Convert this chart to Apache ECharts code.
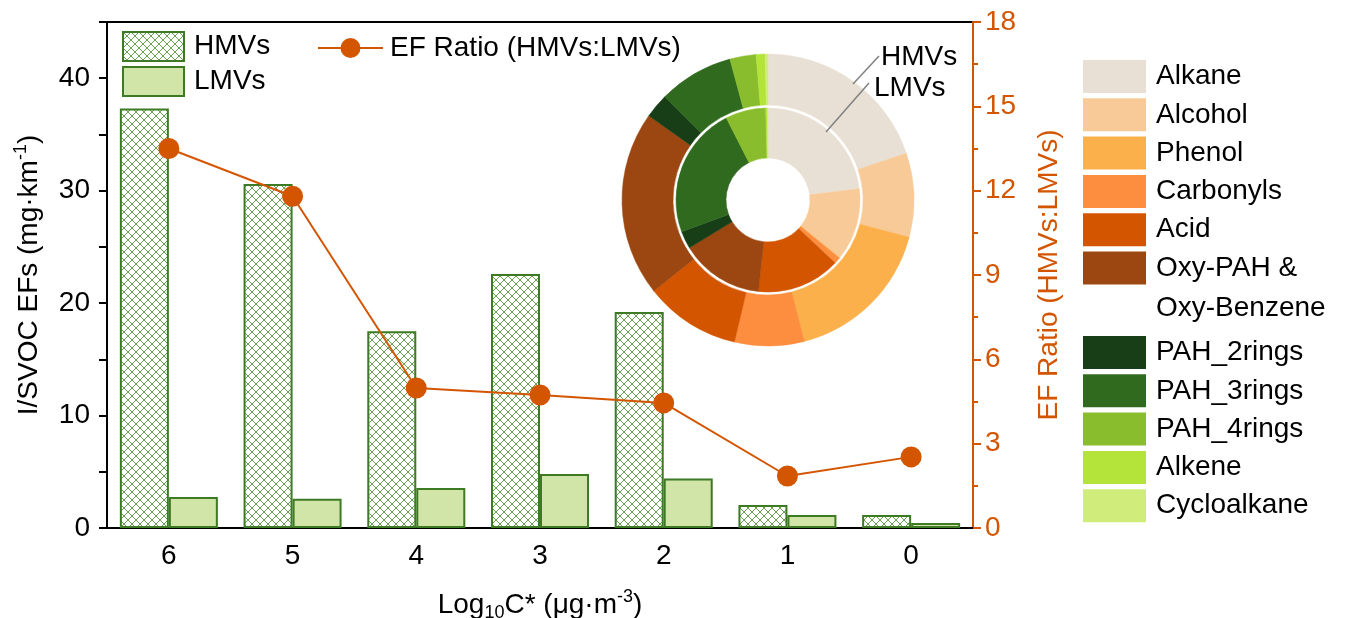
<!DOCTYPE html>
<html>
<head>
<meta charset="utf-8">
<title>I/SVOC EFs of HMVs and LMVs</title>
<script src="https://cdn.jsdelivr.net/npm/echarts@6/dist/echarts.min.js"></script>
<style>
html, body { margin: 0; padding: 0; background: #fff; }
#chart { width: 1346px; height: 618px; }
</style>
</head>
<body>
<div id="chart"></div>
<script>
// volatility bins, log10 C*
const bins = ["6", "5", "4", "3", "2", "1", "0"];
const hmvEF = [37.3, 30.6, 17.5, 22.6, 19.2, 2.05, 1.15];
const lmvEF = [2.75, 2.6, 3.55, 4.8, 4.4, 1.15, 0.45];
const efRatio = [13.5, 11.8, 4.98, 4.73, 4.45, 1.85, 2.53];
const leftTickLabels = [0, 10, 20, 30, 40];

// compound class shares (%), inner ring = LMVs, outer ring = HMVs
const classes = ["Alkane", "Alcohol", "Phenol", "Carbonyls", "Acid", "Oxy-PAH & Oxy-Benzene",
  "PAH_2rings", "PAH_3rings", "PAH_4rings", "Alkene", "Cycloalkane"];
const hmvShare = [19.8, 9.3, 16.9, 7.7, 10.6, 20.5, 2.7, 8.3, 2.9, 1.0, 0.3];
const lmvShare = [23.1, 12.8, 0.1, 1.1, 14.7, 14.7, 3.1, 23.2, 7.1, 0.3, 0.1];

const classColors = ["#e9e0d5", "#f8ca98", "#fbb04b", "#fd8d3f", "#d45500", "#9c4711",
  "#173e17", "#306a1e", "#8abd2d", "#b4e43a", "#d0ec7a"];

const font = "'Liberation Sans', Arial, sans-serif";
const orange = "#d45500";
const green = "#3c7b23";
const fs = 28;

// crosshatch fill for the HMVs bars
function makeHatch() {
  const c = document.createElement("canvas");
  c.width = 8; c.height = 8;
  const ctx = c.getContext("2d");
  ctx.fillStyle = "#fff";
  ctx.fillRect(0, 0, 8, 8);
  ctx.strokeStyle = "#6aa152";
  ctx.lineWidth = 1;
  ctx.beginPath();
  ctx.moveTo(-2, -2); ctx.lineTo(10, 10);
  ctx.moveTo(-2, 10); ctx.lineTo(10, -2);
  ctx.stroke();
  return c;
}
const hatch = makeHatch();

function pieData(values) {
  return classes.map((n, i) => ({
    name: n,
    value: values[i],
    itemStyle: { color: classColors[i], borderColor: classColors[i], borderWidth: 0.5 }
  }));
}

let chart = echarts.init(document.getElementById("chart"));
chart.setOption({
  animation: false,
  textStyle: { fontFamily: font },
  grid: {
    left: 107, right: 373, top: 22, bottom: 90,
    outerBoundsMode: "none",
    show: true, borderColor: "#000", borderWidth: 2
  },
  legend: [
    {
      data: ["HMVs", "LMVs"],
      orient: "vertical", left: 122, top: 31, padding: 0,
      icon: "rect", itemWidth: 61, itemHeight: 29, itemGap: 4,
      selectedMode: false,
      textStyle: { fontSize: fs, lineHeight: 29, color: "#000", fontFamily: font, padding: [0, 0, 0, 5] }
    },
    {
      data: ["EF Ratio (HMVs:LMVs)"],
      left: 317, top: 34, padding: 0,
      itemWidth: 65, itemHeight: 25,
      selectedMode: false,
      textStyle: { fontSize: fs, lineHeight: 25, color: "#000", fontFamily: font, padding: [0, 0, 0, 2] }
    },
    {
      data: classes.slice(0, 6),
      orient: "vertical", left: 1083, top: 60, padding: 0,
      icon: "rect", itemWidth: 63, itemHeight: 33, itemGap: 5.3,
      itemStyle: { borderWidth: 0 },
      selectedMode: false,
      formatter: (n) => n === "Oxy-PAH & Oxy-Benzene" ? "Oxy-PAH &" : n,
      textStyle: { fontSize: fs, lineHeight: 33, color: "#000", fontFamily: font, padding: [0, 0, 0, 5] }
    },
    {
      data: classes.slice(6),
      orient: "vertical", left: 1083, top: 336, padding: 0,
      icon: "rect", itemWidth: 63, itemHeight: 33, itemGap: 5.3,
      itemStyle: { borderWidth: 0 },
      selectedMode: false,
      textStyle: { fontSize: fs, lineHeight: 33, color: "#000", fontFamily: font, padding: [0, 0, 0, 5] }
    }
  ],
  xAxis: {
    type: "category",
    data: bins,
    axisLine: { lineStyle: { color: "#000", width: 2 } },
    axisTick: { length: 7, lineStyle: { color: "#000", width: 2 } },
    axisLabel: { color: "#000", fontSize: fs, margin: 14 },
    name: "Log{sub|10}C* (μg·m{sup|-3})",
    nameLocation: "middle",
    nameGap: 60,
    nameTextStyle: {
      color: "#000", fontSize: fs, lineHeight: 34,
      rich: {
        sub: { fontSize: 18, verticalAlign: "bottom", lineHeight: 22 },
        sup: { fontSize: 18, verticalAlign: "top", lineHeight: 18 }
      }
    }
  },
  yAxis: [
    {
      type: "value", min: 0, max: 45, interval: 5,
      splitLine: { show: false },
      axisLine: { show: true, lineStyle: { color: "#000", width: 2 } },
      axisTick: { show: true, length: 8, lineStyle: { color: "#000", width: 2 } },
      axisLabel: {
        color: "#000", fontSize: fs, margin: 17,
        formatter: (v) => leftTickLabels.includes(v) ? String(v) : ""
      },
      name: "I/SVOC EFs (mg·km{sup|-1})",
      nameLocation: "middle",
      nameGap: 61,
      nameTextStyle: {
        color: "#000", fontSize: fs, lineHeight: 34,
        rich: { sup: { fontSize: 18, verticalAlign: "top", lineHeight: 18 } }
      }
    },
    {
      type: "value", position: "right", min: 0, max: 18, interval: 3,
      splitLine: { show: false },
      axisLine: { show: true, lineStyle: { color: orange, width: 2 } },
      axisTick: { show: true, length: 8, lineStyle: { color: orange, width: 2 } },
      minorTick: { show: true, splitNumber: 2, length: 5, lineStyle: { color: orange, width: 2 } },
      axisLabel: { color: orange, fontSize: fs, margin: 12 },
      name: "EF Ratio (HMVs:LMVs)",
      nameLocation: "middle",
      nameRotate: 90,
      nameGap: 62,
      nameTextStyle: { color: orange, fontSize: fs }
    }
  ],
  series: [
    {
      name: "HMVs", type: "bar", data: hmvEF,
      barWidth: 49, barGap: "0%",
      itemStyle: { color: { image: hatch, repeat: "repeat" }, borderColor: green, borderWidth: 2 }
    },
    {
      name: "LMVs", type: "bar", data: lmvEF,
      barWidth: 49,
      itemStyle: { color: "#d1e5a9", borderColor: green, borderWidth: 2 }
    },
    {
      name: "EF Ratio (HMVs:LMVs)", type: "line", yAxisIndex: 1, data: efRatio,
      symbol: "circle", symbolSize: 21, z: 5,
      lineStyle: { color: orange, width: 2 },
      itemStyle: { color: orange }
    },
    {
      name: "LMVs share", type: "pie", silent: true,
      center: [768, 200], radius: [42, 92],
      startAngle: 90, label: { show: false }, labelLine: { show: false },
      data: pieData(lmvShare)
    },
    {
      name: "HMVs share", type: "pie", silent: true,
      center: [768, 200], radius: [95, 146],
      startAngle: 90, label: { show: false }, labelLine: { show: false },
      data: pieData(hmvShare)
    }
  ],
  graphic: [
    { type: "line", shape: { x1: 853, y1: 84, x2: 879, y2: 56 }, style: { stroke: "#808080", lineWidth: 1.5 }, z: 10 },
    { type: "line", shape: { x1: 826, y1: 132, x2: 869, y2: 83 }, style: { stroke: "#808080", lineWidth: 1.5 }, z: 10 },
    { type: "text", left: 881, top: 43, style: { text: "HMVs", fontSize: fs, fontFamily: font, fill: "#000" }, z: 10 },
    { type: "text", left: 874, top: 74, style: { text: "LMVs", fontSize: fs, fontFamily: font, fill: "#000" }, z: 10 },
    { type: "text", left: 1156, top: 294, style: { text: "Oxy-Benzene", fontSize: fs, fontFamily: font, fill: "#000" } }
  ]
});
</script>
</body>
</html>
